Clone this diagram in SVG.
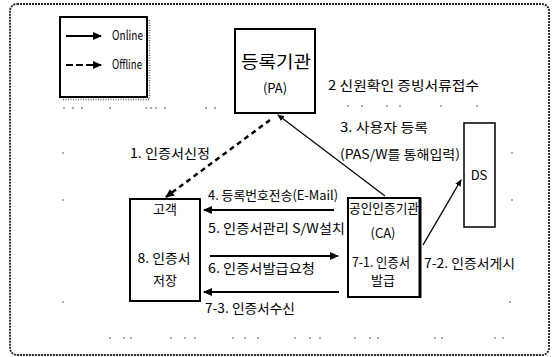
<svg xmlns="http://www.w3.org/2000/svg" width="552" height="357" viewBox="0 0 552 357">
<style>
.t{font-family:"Noto Sans CJK KR","Liberation Sans",sans-serif;font-size:13px;fill:#000}
.big{font-size:17px}
.box{fill:#fff;stroke:#000;stroke-width:2}
.ln{fill:none;stroke:#000}
.dot{fill:#444}
</style>
<defs>
<marker id="ah" markerWidth="9" markerHeight="8" refX="8" refY="4" orient="auto" markerUnits="userSpaceOnUse">
<path d="M0,0 L9,4 L0,8 Z" fill="#000"/>
</marker>
<marker id="ahs" markerWidth="7" markerHeight="6" refX="6" refY="3" orient="auto" markerUnits="userSpaceOnUse">
<path d="M0,0 L7,3 L0,6 Z" fill="#000"/>
</marker>
</defs>
<rect width="552" height="357" fill="#fff"/>
<rect x="10" y="4" width="539" height="351" rx="7" fill="none" stroke="#222" stroke-width="1.8" stroke-dasharray="2 1"/>

<g id="legend">
<rect x="60" y="17" width="87" height="80" class="box"/>
<path d="M149.5,20 V99.5 H63" fill="none" stroke="#666" stroke-width="1.5" stroke-dasharray="1 1.5"/>
<line x1="66" y1="36" x2="101" y2="36" class="ln" stroke-width="2" marker-end="url(#ah)"/>
<line x1="66" y1="65" x2="101" y2="65" class="ln" stroke-width="2" stroke-dasharray="7 3" marker-end="url(#ah)"/>
<text x="112" y="40" class="t" font-size="11" textLength="31" lengthAdjust="spacingAndGlyphs">Online</text>
<text x="112" y="69" class="t" font-size="11" textLength="30" lengthAdjust="spacingAndGlyphs">Offline</text>
</g>

<g id="noise">
<circle cx="64" cy="108" r="0.8" class="dot"/><circle cx="73" cy="108" r="0.8" class="dot"/><circle cx="82" cy="108" r="0.8" class="dot"/>
<circle cx="110" cy="108" r="0.8" class="dot"/><circle cx="146" cy="108" r="0.8" class="dot"/><circle cx="151" cy="108" r="0.8" class="dot"/>
<circle cx="156" cy="108" r="0.8" class="dot"/><circle cx="165" cy="108" r="0.8" class="dot"/><circle cx="206" cy="108" r="0.8" class="dot"/>
<circle cx="215" cy="108" r="0.8" class="dot"/><circle cx="348" cy="106" r="0.8" class="dot"/><circle cx="362" cy="106" r="0.8" class="dot"/>
<circle cx="387" cy="106" r="0.8" class="dot"/><circle cx="400" cy="106" r="0.8" class="dot"/><circle cx="441" cy="106" r="0.8" class="dot"/>
<circle cx="477" cy="106" r="0.8" class="dot"/>
<circle cx="63" cy="153" r="0.8" class="dot"/><circle cx="63" cy="200" r="0.8" class="dot"/><circle cx="63" cy="302" r="0.8" class="dot"/>
<circle cx="512" cy="153" r="0.8" class="dot"/><circle cx="512" cy="200" r="0.8" class="dot"/><circle cx="510" cy="302" r="0.8" class="dot"/>
<circle cx="110" cy="338" r="0.8" class="dot"/><circle cx="124" cy="338" r="0.8" class="dot"/><circle cx="131" cy="338" r="0.8" class="dot"/>
<circle cx="171" cy="338" r="0.8" class="dot"/><circle cx="185" cy="338" r="0.8" class="dot"/><circle cx="195" cy="338" r="0.8" class="dot"/>
<circle cx="233" cy="338" r="0.8" class="dot"/><circle cx="245" cy="338" r="0.8" class="dot"/><circle cx="258" cy="338" r="0.8" class="dot"/>
<circle cx="295" cy="338" r="0.8" class="dot"/><circle cx="310" cy="338" r="0.8" class="dot"/><circle cx="320" cy="338" r="0.8" class="dot"/>
<circle cx="355" cy="338" r="0.8" class="dot"/><circle cx="370" cy="338" r="0.8" class="dot"/><circle cx="378" cy="338" r="0.8" class="dot"/>
<circle cx="435" cy="338" r="0.8" class="dot"/><circle cx="442" cy="338" r="0.8" class="dot"/><circle cx="495" cy="338" r="0.8" class="dot"/>
<circle cx="503" cy="338" r="0.8" class="dot"/>
</g>

<g id="connectors">
<line x1="270" y1="120" x2="166" y2="197" class="ln" stroke-width="2.5" stroke-dasharray="5 4" marker-end="url(#ah)"/>
<line x1="385" y1="196" x2="278" y2="115" class="ln" stroke-width="1.2" marker-end="url(#ahs)"/>
<line x1="423" y1="245" x2="461" y2="180" class="ln" stroke-width="1.4" marker-end="url(#ahs)"/>
<line x1="334" y1="210" x2="204" y2="210" class="ln" stroke-width="2" marker-end="url(#ah)"/>
<line x1="210" y1="256" x2="338" y2="256" class="ln" stroke-width="2" marker-end="url(#ah)"/>
<line x1="339" y1="292" x2="204" y2="292" class="ln" stroke-width="2" marker-end="url(#ah)"/>
<text x="328" y="90" class="t" textLength="151" lengthAdjust="spacingAndGlyphs">2 신원확인 증빙서류접수</text>
<text x="340" y="132" class="t" textLength="88" lengthAdjust="spacingAndGlyphs">3. 사용자 등록</text>
<text x="340" y="159" class="t" textLength="120" lengthAdjust="spacingAndGlyphs">(PAS/W를 통해입력)</text>
<text x="130" y="158" class="t" textLength="80" lengthAdjust="spacingAndGlyphs">1. 인증서신정</text>
<text x="208" y="200" class="t" textLength="130" lengthAdjust="spacingAndGlyphs">4. 등록번호전송(E-Mail)</text>
<text x="208" y="233" class="t" textLength="137" lengthAdjust="spacingAndGlyphs">5. 인증서관리 S/W설치</text>
<text x="208" y="273" class="t" textLength="107" lengthAdjust="spacingAndGlyphs">6. 인증서발급요청</text>
<text x="205" y="313" class="t" textLength="90" lengthAdjust="spacingAndGlyphs">7-3. 인증서수신</text>
<text x="424" y="268" class="t" textLength="91" lengthAdjust="spacingAndGlyphs">7-2. 인증서게시</text>
</g>

<g id="pa">
<rect x="235" y="29" width="80" height="84" class="box"/>
<text x="276" y="68" class="t big" text-anchor="middle" textLength="70" lengthAdjust="spacingAndGlyphs">등록기관</text>
<text x="275" y="93" class="t" text-anchor="middle">(PA)</text>
</g>

<g id="ds">
<rect x="464" y="123" width="31" height="104" fill="#fff" stroke="#000" stroke-width="1.5"/>
<text x="479" y="180" class="t" text-anchor="middle" font-size="11.5">DS</text>
</g>

<g id="ca">
<rect x="348" y="198" width="72" height="99" class="box"/>
<line x1="420" y1="198" x2="420" y2="298" stroke="#000" stroke-width="3"/>
<text x="384" y="213" class="t" text-anchor="middle" textLength="70" lengthAdjust="spacingAndGlyphs">공인인증기관</text>
<text x="383" y="238" class="t" text-anchor="middle">(CA)</text>
<text x="381" y="267" class="t" text-anchor="middle" textLength="58" lengthAdjust="spacingAndGlyphs">7-1. 인증서</text>
<text x="383" y="285" class="t" text-anchor="middle">발급</text>
</g>

<g id="customer">
<rect x="130" y="199" width="70" height="102" class="box"/>
<text x="165" y="214" class="t" text-anchor="middle">고객</text>
<text x="164" y="263" class="t" text-anchor="middle" textLength="53" lengthAdjust="spacingAndGlyphs">8. 인증서</text>
<text x="165" y="285" class="t" text-anchor="middle">저장</text>
</g>
</svg>
